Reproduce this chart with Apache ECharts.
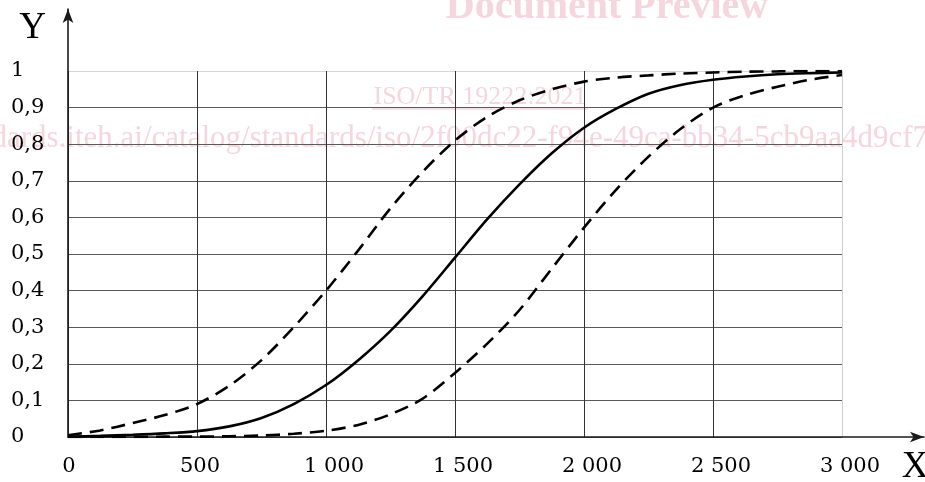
<!DOCTYPE html>
<html>
<head>
<meta charset="utf-8">
<script src="https://cdn.jsdelivr.net/npm/echarts@6/dist/echarts.min.js"></script>
<style>
	html, body { margin: 0; padding: 0; background: #fff; }
	#chart { width: 925px; height: 482px; }
</style>
</head>
<body>
<div id="chart"></div>
<script>
// tick labels
const xTickValues = [0, 500, 1000, 1500, 2000, 2500, 3000];
const xTickLabels = ['0', '500', '1 000', '1 500', '2 000', '2 500', '3 000'];
const yTickValues = [0, 0.1, 0.2, 0.3, 0.4, 0.5, 0.6, 0.7, 0.8, 0.9, 1];
const yTickLabels = ['0', '0,1', '0,2', '0,3', '0,4', '0,5', '0,6', '0,7', '0,8', '0,9', '1'];

// x positions (same for all curves)
const xs = [0, 125, 250, 375, 500, 625, 750, 875, 1000, 1125, 1250, 1375, 1500,
	1625, 1750, 1875, 2000, 2125, 2250, 2375, 2500, 2625, 2750, 2875, 3000];
// solid curve (middle)
const midY = [0.001, 0.003, 0.006, 0.010, 0.016, 0.029, 0.052, 0.09, 0.142, 0.21, 0.29, 0.385, 0.49,
	0.595, 0.69, 0.775, 0.845, 0.897, 0.938, 0.962, 0.976, 0.985, 0.991, 0.994, 0.996];
// dashed curve (left)
const lowY = [0.005, 0.018, 0.038, 0.06, 0.09, 0.14, 0.21, 0.30, 0.40, 0.51, 0.625, 0.725, 0.81,
	0.875, 0.92, 0.95, 0.971, 0.982, 0.988, 0.993, 0.996, 0.998, 0.999, 1.0, 1.0];
// dashed curve (right)
const highY = [0.0, 0.0, 0.0, 0.001, 0.001, 0.002, 0.004, 0.009, 0.017, 0.033, 0.062, 0.105, 0.175,
	0.255, 0.347, 0.46, 0.572, 0.676, 0.766, 0.842, 0.90, 0.934, 0.957, 0.976, 0.989];

const serif = 'Liberation Serif';
const tickFont = 'DejaVu Serif';
const pink = '#f6d6de';

function pairs(xv, yv){
	return xv.map((x, i) => [x, yv[i]]);
}
function lookup(values, labels, v){
	let i = values.findIndex(t => Math.abs(t - v) < 1e-9);
	return i < 0 ? '' : labels[i];
}
function xLabel(v){
	let text = lookup(xTickValues, xTickLabels, v);
	if(v >= 1000) return `{w|${text}}`;
	if(v >= 500) return `{m|${text}}`;
	return `{n|${text}}`;
}
function curve(name, yv, dashed){
	return {
		name: name,
		type: 'line',
		xAxisIndex: 0,
		yAxisIndex: 0,
		data: pairs(xs, yv),
		smooth: 0.3,
		showSymbol: false,
		silent: true,
		z: 5,
		lineStyle: {
			color: '#000',
			width: 2.6,
			type: dashed ? [14, 8] : 'solid'
		}
	};
}

const labelText = {color: '#000', fontFamily: tickFont, fontSize: 21};

const chart = echarts.init(document.getElementById('chart'), null, {renderer: 'canvas'});

chart.setOption({
	animation: false,
	backgroundColor: '#fff',
	grid: [
		// data area
		{left: 68, right: 83, top: 71, bottom: 45, outerBoundsMode: 'none'},
		// arrow axes
		{left: 68, right: 1, top: 9, bottom: 45, outerBoundsMode: 'none'}
	],
	xAxis: [
		{
			type: 'value',
			gridIndex: 0,
			min: 0,
			max: 3000,
			interval: 500,
			axisLine: {show: false},
			axisTick: {show: false},
			axisLabel: {
				margin: 19,
				...labelText,
				formatter: xLabel,
				rich: {
					w: {...labelText, padding: [0, 0, 0, 16]},
					m: {...labelText, padding: [0, 0, 0, 6]},
					n: {...labelText, padding: [0, 0, 0, 2]}
				}
			},
			splitLine: {
				show: true,
				lineStyle: {
					color: ['#333', '#333', '#333', '#333', '#333', '#333', '#cfcfcf'],
					width: 1
				}
			},
			name: 'X',
			nameLocation: 'end',
			nameGap: 73,
			nameTextStyle: {
				color: '#000',
				fontFamily: serif,
				fontSize: 37,
				align: 'center',
				verticalAlign: 'top',
				padding: [12, 0, 0, 0]
			}
		},
		{
			type: 'value',
			gridIndex: 1,
			min: 0,
			max: 1,
			axisLine: {
				show: true,
				symbol: ['none', 'arrow'],
				symbolSize: [8, 14],
				lineStyle: {color: '#1a1a1a', width: 1.6}
			},
			axisTick: {show: false},
			axisLabel: {show: false},
			splitLine: {show: false}
		}
	],
	yAxis: [
		{
			type: 'value',
			gridIndex: 0,
			min: 0,
			max: 1,
			interval: 0.1,
			axisLine: {show: false},
			axisTick: {show: false},
			axisLabel: {
				margin: 57,
				align: 'left',
				...labelText,
				formatter: v => lookup(yTickValues, yTickLabels, v)
			},
			splitLine: {
				show: true,
				lineStyle: {
					color: ['#5a5a5a', '#5a5a5a', '#5a5a5a', '#5a5a5a', '#5a5a5a', '#5a5a5a',
						'#5a5a5a', '#5a5a5a', '#5a5a5a', '#5a5a5a', '#d6d6d6'],
					width: 1
				}
			},
			name: 'Y',
			nameLocation: 'end',
			nameGap: 43,
			nameTextStyle: {
				color: '#000',
				fontFamily: serif,
				fontSize: 37,
				align: 'right',
				verticalAlign: 'middle',
				padding: [0, 22, 0, 0]
			}
		},
		{
			type: 'value',
			gridIndex: 1,
			min: 0,
			max: 1,
			axisLine: {
				show: true,
				symbol: ['none', 'arrow'],
				symbolSize: [8, 14],
				lineStyle: {color: '#1a1a1a', width: 1.6}
			},
			axisTick: {show: false},
			axisLabel: {show: false},
			splitLine: {show: false}
		}
	],
	// watermark of the preview page
	graphic: [
		{
			type: 'text', z: -1, silent: true,
			x: 607, y: 8,
			style: {text: 'Document Preview', fill: pink, font: `bold 40px "${serif}"`, align: 'center', verticalAlign: 'middle'}
		},
		{
			type: 'text', z: -1, silent: true,
			x: 480, y: 97,
			style: {text: 'ISO/TR 19222:2021', fill: pink, font: `26px "${serif}"`, align: 'center', verticalAlign: 'middle'}
		},
		{
			type: 'line', z: -1, silent: true,
			shape: {x1: 372, y1: 109, x2: 588, y2: 109},
			style: {stroke: pink, lineWidth: 1.5}
		},
		{
			type: 'text', z: -1, silent: true,
			x: 928, y: 139,
			style: {text: 'https://standards.iteh.ai/catalog/standards/iso/2f00dc22-f94e-49ca-bb34-5cb9aa4d9cf7', fill: pink, font: `31px "${serif}"`, align: 'right', verticalAlign: 'middle'}
		}
	],
	series: [
		curve('lower', lowY, true),
		curve('mean', midY, false),
		curve('upper', highY, true)
	]
});
</script>
</body>
</html>
